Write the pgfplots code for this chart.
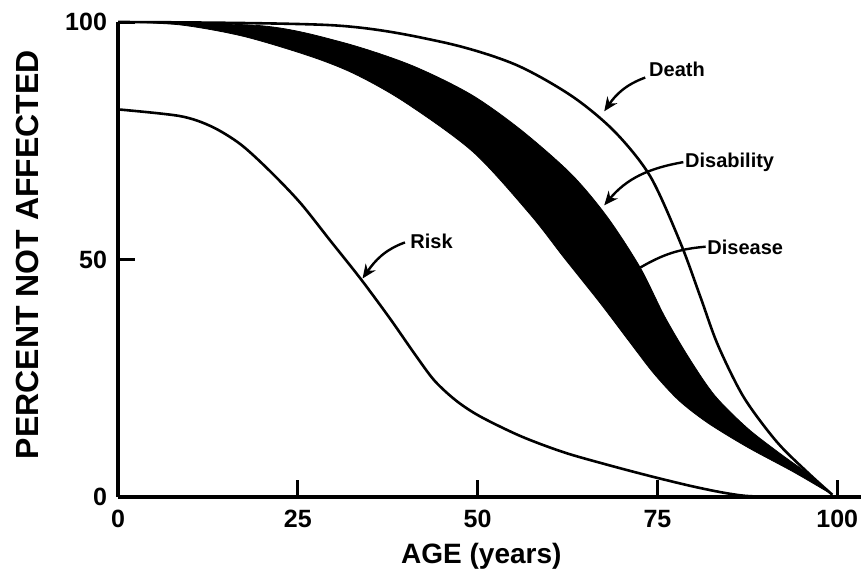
\documentclass[border=0pt]{standalone}
\usepackage{fontspec}
\setmainfont{Liberation Sans}
\usepackage{pgfplots}
\pgfplotsset{compat=1.18}
\usepgfplotslibrary{fillbetween}
\usetikzlibrary{arrows.meta}

\begin{document}
\begin{tikzpicture}
\begin{axis}[
    width=371.5pt, height=237.5pt, scale only axis,
    xmin=0, xmax=103.3, ymin=0, ymax=100,
    axis x line*=bottom, axis y line*=left,
    axis line style={line width=1.6pt},
    xtick={0,25,50,75,100}, xticklabels={0,25,50,75,100},
    ytick={0,50,100}, yticklabels={0,50,100},
    tick align=inside, major tick length=8.5pt,
    tick style={line width=1.5pt, black},
    xticklabel style={font=\fontsize{12.5}{14}\selectfont\bfseries, yshift=-3pt},
    yticklabel style={font=\fontsize{12.5}{14}\selectfont\bfseries, xshift=-2pt},
    xlabel={AGE (years)},
    ylabel={PERCENT NOT AFFECTED},
    xlabel style={font=\fontsize{14}{16}\selectfont\bfseries, at={(rel axis cs:0.489,-0.125)}, anchor=center},
    ylabel style={font=\fontsize{16}{18}\selectfont\bfseries, at={(rel axis cs:-0.1225,0.51)}, anchor=center},
    clip=false,
]
% band: disability (upper edge) and disease (lower edge)
\addplot[name path=disab, black, line width=0.4pt, smooth] coordinates {
    (0,100) (20,99.2) (31,95.8) (40.6,91) (49,84.8) (56,77.3) (63,68)
    (68,59) (72.6,48.3) (76,38) (79.5,29) (83,21.3) (87.5,14.5) (92,9.2)
    (96,4.8) (99.3,0.5)
};
\addplot[name path=disea, black, line width=0.4pt, smooth] coordinates {
    (0,100) (8.6,99.4) (17.4,97) (26.7,92.8) (33,89) (40,83) (49.4,72.6)
    (57.3,59.5) (62,50.4) (67,40.9) (71.2,32.5) (74.5,26) (78,20.3) (82,15.6)
    (87.5,10.5) (94,5.2) (99.3,0.5)
};
\addplot[black] fill between[of=disab and disea];

% death
\addplot[black, line width=1.3pt, smooth] coordinates {
    (0,100) (30,99.3) (45,95.8) (55,91.2) (63,84.5) (69,77) (74,67.5)
    (78.2,53.5) (81,42) (83.4,32) (87,21) (91.6,11.6) (96,5) (99.3,0.5)
};

% risk
\addplot[black, line width=1.3pt, smooth] coordinates {
    (0,81.6) (8.6,80.2) (13,78) (17,74.3) (21,68.8) (25.3,62) (29.5,54)
    (33.7,46) (37.8,37.6) (41.3,30) (44,24.5) (47,20.3) (50.3,17) (56,12.8)
    (62,9.4) (68,6.8) (74,4.4) (80,2.2) (85,0.7) (89,0.1) (100,0)
};

% annotations
\node[anchor=west, inner sep=0pt, font=\fontsize{10}{12}\selectfont\bfseries] at (axis cs:73.8,90) {Death};
\draw[-{Stealth[length=7pt,width=6pt]}, line width=1.2pt] (axis cs:73.3,88.3) to[out=200, in=55] (axis cs:67.6,81.2);

\node[anchor=west, inner sep=0pt, font=\fontsize{10}{12}\selectfont\bfseries] at (axis cs:78.8,70.5) {Disability};
\draw[-{Stealth[length=7pt,width=6pt]}, line width=1.2pt] (axis cs:78.6,70.5) to[out=190, in=50] (axis cs:67.6,61.4);

\node[anchor=west, inner sep=0pt, font=\fontsize{10}{12}\selectfont\bfseries] at (axis cs:81.9,52.5) {Disease};
\draw[line width=1.2pt] (axis cs:81.7,52.7) to[out=185, in=30] (axis cs:72.6,48.3);

\node[anchor=west, inner sep=0pt, font=\fontsize{10}{12}\selectfont\bfseries] at (axis cs:40.6,53.8) {Risk};
\draw[-{Stealth[length=7pt,width=6pt]}, line width=1.2pt] (axis cs:39.9,53.6) to[out=200, in=55] (axis cs:34,46);

\coordinate (o) at (axis cs:0,0);
\end{axis}
\pgfresetboundingbox
\path (o) ++(-59pt,-44pt) rectangle ++(430.5pt,292.5pt);
\end{tikzpicture}
\end{document}
